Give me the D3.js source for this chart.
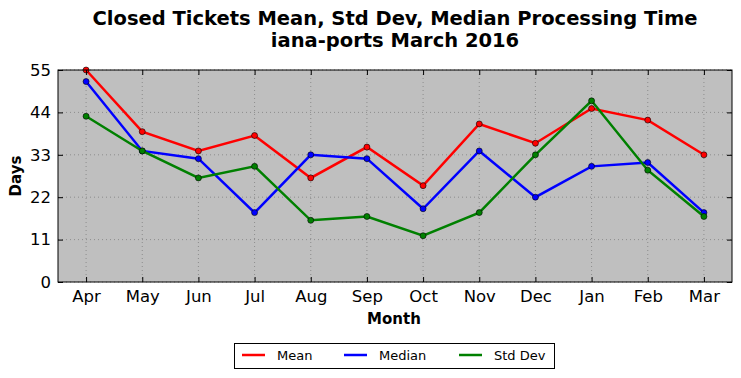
<!DOCTYPE html>
<html><head><meta charset="utf-8">
<script src="https://cdn.jsdelivr.net/npm/d3@7"></script>
<style>body{margin:0;background:#fff;} svg{display:block;font-family:"DejaVu Sans",sans-serif;}</style>
</head><body><svg id="c" width="741" height="378"></svg>
<script>
const months = ["Apr","May","Jun","Jul","Aug","Sep","Oct","Nov","Dec","Jan","Feb","Mar"];
const meanVals = [55,39,34,38,27,35,25,41,36,45,42,33];
const medianVals = [52,34,32,18,33,32,19,34,22,30,31,18];
const stdVals = [43,34,27,30,16,17,12,18,33,47,29,17];
const yTicks = [0,11,22,33,44,55];
const seriesNames = ["Mean","Median","Std Dev"];
const seriesColors = ["#ff0000","#0000ff","#008000"];

const svg = d3.select("#c");
const L=58, R=732, T=70, B=282;
const x = d3.scalePoint().domain(months).range([L,R]).padding(0.5);
const y = d3.scaleLinear().domain([0,55]).range([B,T]);

svg.append("rect").attr("x",L).attr("y",T).attr("width",R-L).attr("height",B-T).attr("fill","#bfbfbf");
const g = svg.append("g");
months.forEach(m=>g.append("line").attr("x1",x(m)).attr("x2",x(m)).attr("y1",T).attr("y2",B)
  .attr("stroke","#808080").attr("stroke-width",0.8).attr("stroke-dasharray","1,3"));
yTicks.forEach(t=>g.append("line").attr("x1",L).attr("x2",R).attr("y1",y(t)).attr("y2",y(t))
  .attr("stroke","#808080").attr("stroke-width",0.8).attr("stroke-dasharray","1,3"));

const data = [meanVals, medianVals, stdVals];
const line = d3.line().x((d,i)=>x(months[i])).y(d=>y(d));
data.forEach((vals,k)=>{
  svg.append("path").attr("d",line(vals)).attr("fill","none").attr("stroke",seriesColors[k]).attr("stroke-width",2.5);
  svg.append("g").selectAll("circle").data(vals).join("circle")
    .attr("cx",(d,i)=>x(months[i])).attr("cy",d=>y(d)).attr("r",3)
    .attr("fill",seriesColors[k]).attr("stroke","#000").attr("stroke-width",0.6);
});

const xa = svg.append("g").attr("transform",`translate(0,${B})`).call(d3.axisBottom(x).tickSize(-5).tickPadding(8));
const xt = svg.append("g").attr("transform",`translate(0,${T})`).call(d3.axisTop(x).tickSize(-5).tickFormat(""));
const ya = svg.append("g").attr("transform",`translate(${L},0)`).call(d3.axisLeft(y).tickValues(yTicks).tickSize(-5).tickPadding(7));
const yr = svg.append("g").attr("transform",`translate(${R},0)`).call(d3.axisRight(y).tickValues(yTicks).tickSize(-5).tickFormat(""));
[xa,xt,ya,yr].forEach(a=>{a.select(".domain").remove(); a.selectAll("line").attr("stroke","#000");
  a.selectAll("text").attr("font-size",16.5).attr("font-family","DejaVu Sans").attr("fill","#000");});
svg.append("rect").attr("x",L).attr("y",T).attr("width",R-L).attr("height",B-T).attr("fill","none").attr("stroke","#000").attr("stroke-width",1);

svg.append("text").attr("x",395).attr("y",25).attr("text-anchor","middle").attr("font-weight","bold").attr("font-size",19.5).text("Closed Tickets Mean, Std Dev, Median Processing Time");
svg.append("text").attr("x",395).attr("y",47).attr("text-anchor","middle").attr("font-weight","bold").attr("font-size",19.5).text("iana-ports March 2016");
svg.append("text").attr("x",394).attr("y",324).attr("text-anchor","middle").attr("font-weight","bold").attr("font-size",15).text("Month");
svg.append("text").attr("transform","translate(21,176) rotate(-90)").attr("text-anchor","middle").attr("font-weight","bold").attr("font-size",15).text("Days");

const lg = svg.append("g");
lg.append("rect").attr("x",234.5).attr("y",343.5).attr("width",320).attr("height",25).attr("fill","#fff").attr("stroke","#000");
const lx=[242,344,459];
seriesNames.forEach((n,k)=>{
  lg.append("line").attr("x1",lx[k]).attr("x2",lx[k]+23).attr("y1",355).attr("y2",355).attr("stroke",seriesColors[k]).attr("stroke-width",2.5);
  lg.append("text").attr("x",lx[k]+35).attr("y",360).attr("font-size",13).text(n);
});
</script></body></html>
